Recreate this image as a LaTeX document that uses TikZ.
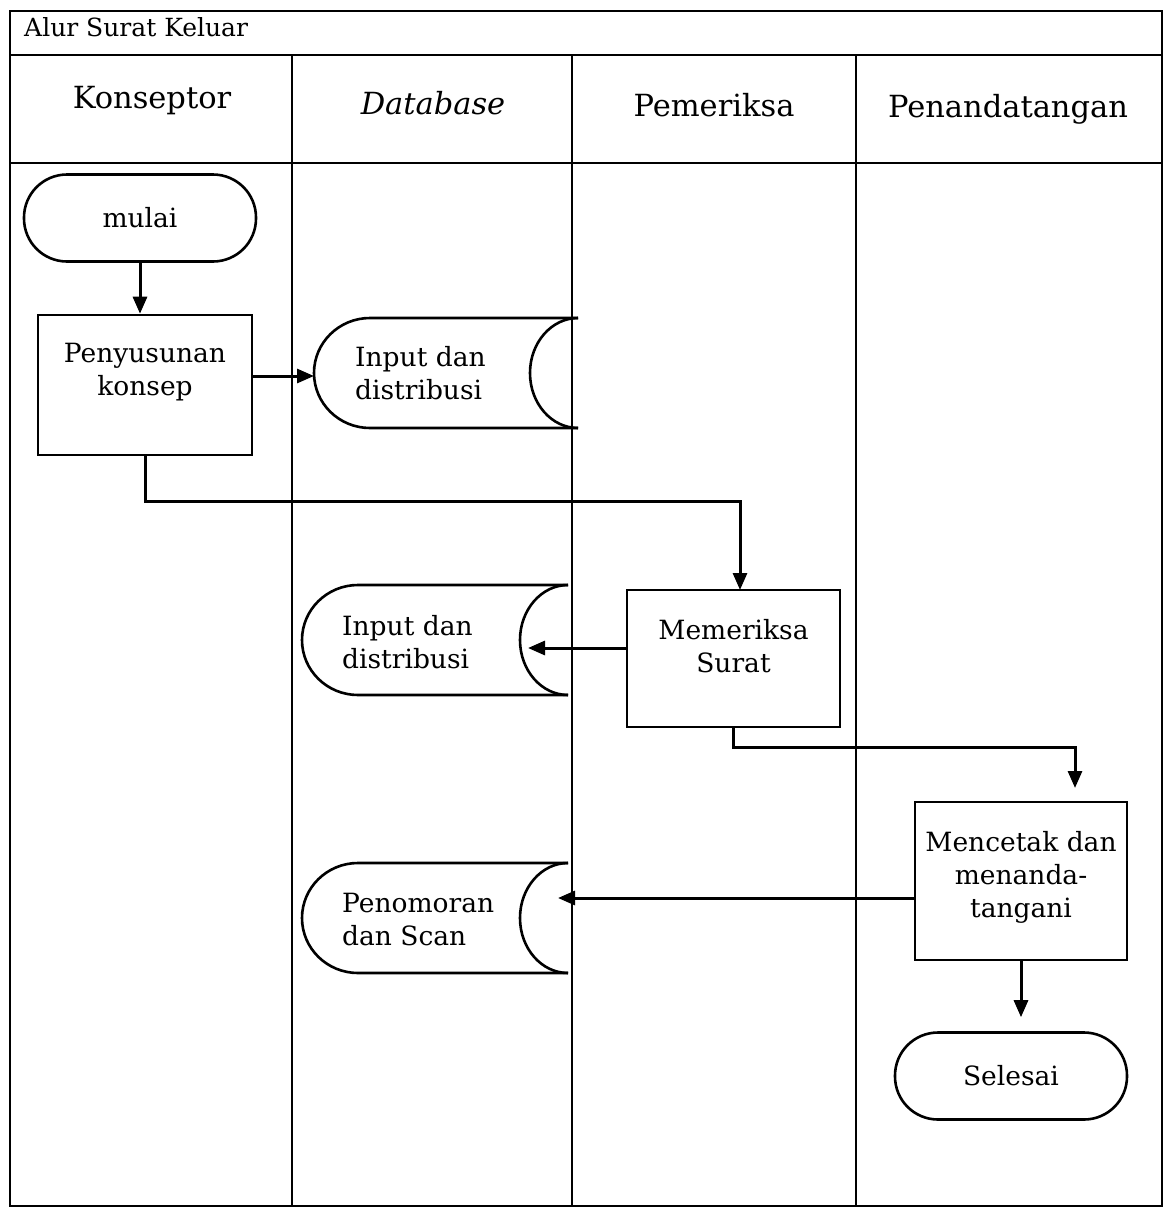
\documentclass[tikz,border=0pt]{standalone}
\usepackage{fontspec}
\setmainfont{DejaVu Serif}
\usetikzlibrary{arrows.meta,calc}
\begin{document}
\begin{tikzpicture}[x=1pt,y=-1pt,
  frame/.style={line width=2.2pt},
  boxnode/.style={draw,line width=2.6pt,minimum width=#1,inner sep=0pt},
  term/.style={draw,line width=2.6pt,rounded corners=43pt,minimum width=232pt,minimum height=87pt,inner sep=0pt,font=\fontsize{26.5}{33}\selectfont},
  txt/.style={align=center,inner sep=0pt,font=\fontsize{26.5}{33}\selectfont},
  dbtxt/.style={align=left,inner sep=0pt,anchor=west,font=\fontsize{26.5}{33}\selectfont},
  hdr/.style={inner sep=0pt,font=\fontsize{30.5}{36}\selectfont},
  conn/.style={line width=3pt,-{Triangle[length=17pt,width=14pt]}},
  dbshape/.style={line width=2.6pt}]
\useasboundingbox (0,0) rectangle (1168,1208);
\fill[white] (0,0) rectangle (1168,1208);
% frame
\draw[frame] (10,1206) -- (10,11) -- (1162,11) -- (1162,1206) -- cycle;
\draw[frame] (10,55) -- (1162,55);
\draw[frame] (10,163) -- (1162,163);
\draw[frame] (292,55) -- (292,1206);
\draw[frame] (572,55) -- (572,1206);
\draw[frame] (856,55) -- (856,1206);
\node[anchor=west,inner sep=0pt,font=\fontsize{25}{30}\selectfont] (title) at (24,27) {Alur Surat Keluar};
% headers
\node[hdr] (h1) at (152,101) {Konseptor};
\node[hdr,font=\fontsize{30.5}{36}\selectfont\itshape] (h2) at (433,103) {Database};
\node[hdr] (h3) at (714,105) {Pemeriksa};
\node[hdr] (h4) at (1008,109) {Penandatangan};
% start
\node[term] (mulai) at (140,218) {mulai};
% Penyusunan konsep
\node[boxnode=214pt,minimum height=140pt] (pen) at (145,385) {};
\node[txt] (pentxt) at (145,372) {Penyusunan\\konsep};
% database 1
\coordinate (d1tl) at (370,318);
\coordinate (d1tr) at (578,318);
\coordinate (d1br) at (578,428);
\coordinate (d1in) at (314,376);
\draw[dbshape] (d1tr) -- (d1tl) arc[start angle=90,end angle=270,x radius=56pt,y radius=55pt] -- (d1br);
\draw[dbshape] (d1tr) arc[start angle=90,end angle=270,x radius=48pt,y radius=55pt];
\node[dbtxt] (d1txt) at (355,373) {Input dan\\distribusi};
% Memeriksa
\node[boxnode=213pt,minimum height=137pt] (mem) at (733.5,658.5) {};
\node[txt] (memtxt) at (733.5,646) {Memeriksa\\Surat};
% database 2
\coordinate (d2tl) at (358,585);
\coordinate (d2tr) at (568,585);
\coordinate (d2br) at (568,695);
\coordinate (d2in) at (528,648);
\draw[dbshape] (d2tr) -- (d2tl) arc[start angle=90,end angle=270,x radius=56pt,y radius=55pt] -- (d2br);
\draw[dbshape] (d2tr) arc[start angle=90,end angle=270,x radius=48pt,y radius=55pt];
\node[dbtxt] (d2txt) at (342,642) {Input dan\\distribusi};
% Mencetak
\node[boxnode=212pt,minimum height=158pt] (cet) at (1021,881) {};
\node[txt] (cettxt) at (1021,877) {Mencetak dan\\menanda-\\tangani};
% database 3
\coordinate (d3tl) at (358,863);
\coordinate (d3tr) at (568,863);
\coordinate (d3br) at (568,973);
\coordinate (d3in) at (558,898);
\draw[dbshape] (d3tr) -- (d3tl) arc[start angle=90,end angle=270,x radius=56pt,y radius=55pt] -- (d3br);
\draw[dbshape] (d3tr) arc[start angle=90,end angle=270,x radius=48pt,y radius=55pt];
\node[dbtxt] (d3txt) at (342,920) {Penomoran\\dan Scan};
% Selesai
\node[term] (sel) at (1011,1076) {Selesai};
% connectors
\coordinate (memtop) at (740,590);
\coordinate (cettop) at (1075,802);
\draw[conn] (mulai.south) -- (mulai.south |- pen.north);
\draw[conn] (pen.east |- d1in) -- (d1in);
\draw[conn] (pen.south) -- ++(0,45) -| (memtop);
\draw[conn] (mem.west |- d2in) -- (d2in);
\draw[conn,shorten >=14pt] (mem.south) -- ++(0,19) -| (cettop);
\draw[conn] (cet.west |- d3in) -- (d3in);
\draw[conn,shorten >=14pt] (cet.south) -- (cet.south |- sel.north);
\end{tikzpicture}
\end{document}
